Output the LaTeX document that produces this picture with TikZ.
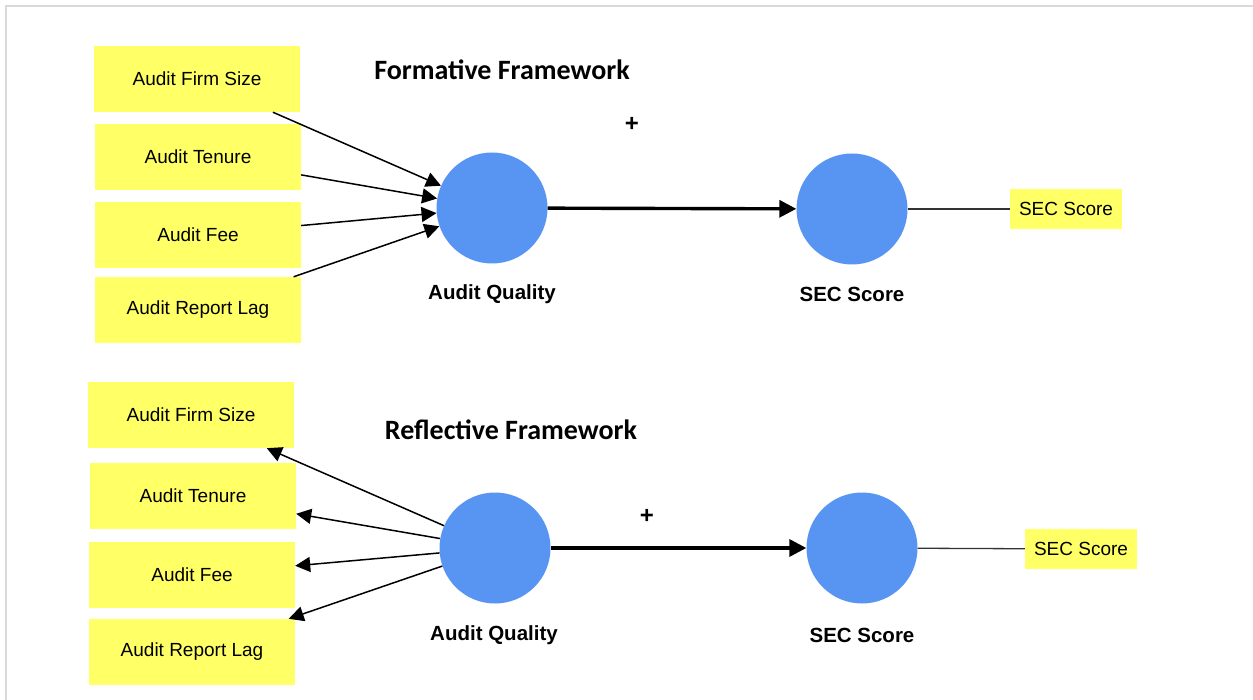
\documentclass[tikz,border=0pt]{standalone}
\usepackage{fontspec}
\setmainfont{Liberation Sans}
\newfontfamily\titlefont{Carlito}
\usetikzlibrary{arrows.meta,positioning}
\definecolor{indyellow}{RGB}{255,255,102}
\definecolor{latblue}{RGB}{88,148,242}
\definecolor{frameline}{RGB}{217,217,217}

\begin{document}
\begin{tikzpicture}[x=1pt,y=-1pt,
  ind/.style={fill=indyellow,font=\fontsize{19}{22}\selectfont,inner sep=0pt,
     minimum width=206pt,minimum height=66pt},
  sec/.style={fill=indyellow,font=\fontsize{19}{22}\selectfont,inner sep=0pt,
     minimum width=112pt,minimum height=40pt},
  lat/.style={circle,fill=latblue,inner sep=0pt,minimum size=111pt},
  lab/.style={font=\fontsize{20.5}{24}\selectfont\bfseries},
  ttl/.style={font=\titlefont\fontsize{28}{32}\selectfont\bfseries},
  arr/.style={-{Triangle[length=15pt,width=15pt]},line width=1.5pt},
  main/.style={-{Triangle[length=17pt,width=17pt]},line width=3.4pt},
  link/.style={line width=1.3pt,black!80}]
\useasboundingbox (0,0) rectangle (1253,700);
\draw[frameline,line width=1.5pt] (6,700) -- (6,6) -- (1253,6);
% formative
\node[ttl] (ttlf) at (502,70) {Formative Framework};
\node[ind] (fsize1) at (197,79) {Audit Firm Size};
\node[ind] (tenure1) at (198,157) {Audit Tenure};
\node[ind] (fee1) at (198,235) {Audit Fee};
\node[ind] (lag1) at (198,310) {Audit Report Lag};
\node[lat] (aq1) at (492,208) {};
\node[lat] (sec1) at (852,209) {};
\node[lab] (aqlab1) at (492,294) {Audit Quality};
\node[lab] (seclab1) at (852,294) {SEC Score};
\node[sec] (secbox1) at (1066,209) {SEC Score};
\node[lab,font=\fontsize{24}{26}\selectfont\bfseries] (plus1) at (632,124) {+};
\draw[arr] (fsize1) -- (aq1);
\draw[arr] (tenure1) -- (aq1);
\draw[arr] (fee1) -- (aq1);
\draw[arr] (lag1) -- (aq1);
\draw[main] (aq1) -- (sec1);
\draw[link] (sec1) -- (secbox1);
% reflective
\node[ttl] (ttlr) at (511,430) {Reflective Framework};
\node[ind] (fsize2) at (191,415) {Audit Firm Size};
\node[ind] (tenure2) at (193,496) {Audit Tenure};
\node[ind] (fee2) at (192,575) {Audit Fee};
\node[ind] (lag2) at (192,652) {Audit Report Lag};
\node[lat] (aq2) at (495,548) {};
\node[lat] (sec2) at (862,548) {};
\node[lab] (aqlab2) at (494,635) {Audit Quality};
\node[lab] (seclab2) at (862,635) {SEC Score};
\node[sec] (secbox2) at (1081,549) {SEC Score};
\node[lab,font=\fontsize{24}{26}\selectfont\bfseries] (plus2) at (647,516) {+};
\draw[arr] (aq2) -- (fsize2);
\draw[arr] (aq2) -- (tenure2);
\draw[arr] (aq2) -- (fee2);
\draw[arr] (aq2) -- (lag2);
\draw[main] (aq2) -- (sec2);
\draw[link] (sec2) -- (secbox2);
\end{tikzpicture}
\end{document}
